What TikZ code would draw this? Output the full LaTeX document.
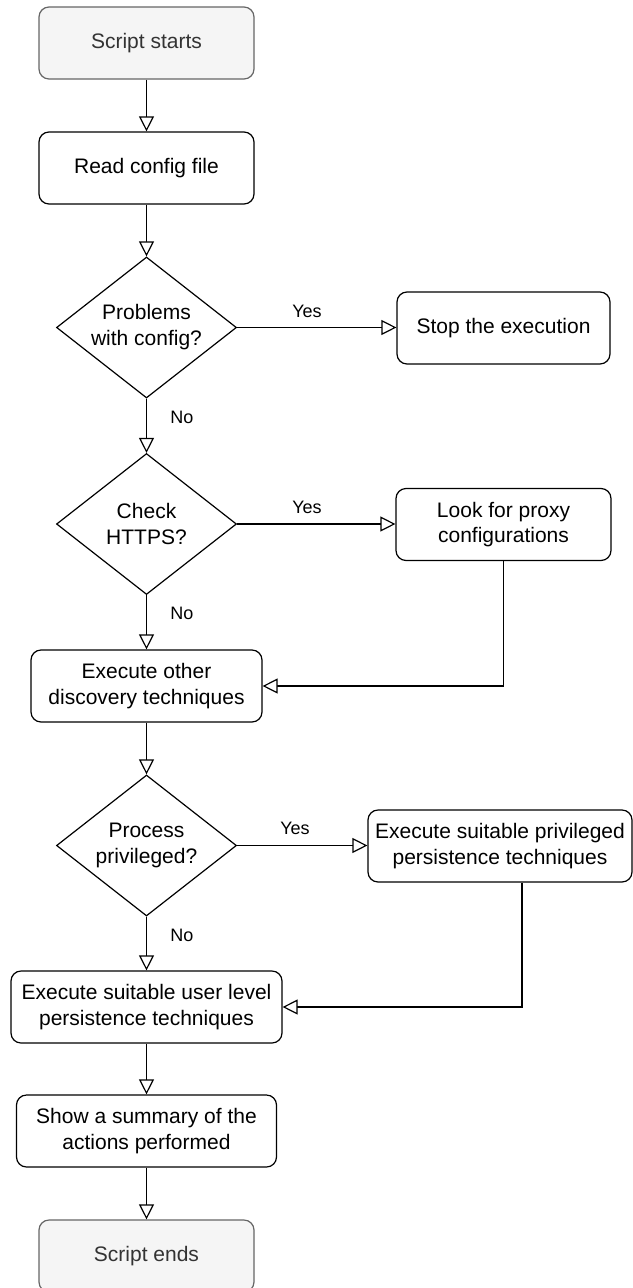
\documentclass[tikz,border=0pt]{standalone}
\usepackage{fontspec}
\setmainfont{Liberation Sans}
\usetikzlibrary{arrows.meta,shapes.geometric}
\definecolor{termfill}{HTML}{F5F5F5}
\definecolor{termdraw}{HTML}{666666}
\definecolor{termtext}{HTML}{333333}
\begin{document}
\begin{tikzpicture}[x=1pt,y=-1pt,
  box/.style={draw=black, line width=1.2pt, rounded corners=10pt, fill=white,
    minimum width=#1, minimum height=72pt, inner sep=0pt, align=center,
    font=\fontsize{21}{25.5}\selectfont, text=black},
  box/.default=215pt,
  term/.style={box=215pt, fill=termfill, draw=termdraw, text=termtext},
  dia/.style={diamond, draw=black, line width=1.2pt, fill=white,
    minimum width=180pt, minimum height=141pt, inner sep=0pt},
  diatext/.style={align=center, inner sep=0pt, font=\fontsize{21}{26}\selectfont, text=black},
  lbl/.style={inner sep=0pt, font=\fontsize{18}{20}\selectfont, text=black},
  arr/.style={line width=1.2pt, draw=black, -{Triangle[fill=white, length=15pt, width=15pt]}}
]
\useasboundingbox (0,0) rectangle (632,1288);

\node[term] (start) at (146.5,43) {Script starts};
\node[box] (read) at (146.5,168) {Read config file};
\node[dia] (d1) at (146.5,327.5) {};
\node[diatext] (d1t) at (146.5,327.5) {Problems\\with config?};
\node[box=213pt] (stop) at (503.5,328) {Stop the execution};

\node[dia] (d2) at (146.5,524) {};
\node[diatext] (d2t) at (146.5,524) {Check\\HTTPS?};
\node[box=215pt] (proxy) at (503.5,524.5) {Look for proxy\\configurations};

\node[box=231pt] (disc) at (146.5,686) {Execute other\\discovery techniques};

\node[dia] (d3) at (146.5,845.5) {};
\node[diatext] (d3t) at (146.5,845.5) {Process\\privileged?};
\node[box=264pt] (priv) at (500,846) {Execute suitable privileged\\persistence techniques};

\node[box=271pt] (user) at (146.5,1007) {Execute suitable user level\\persistence techniques};
\node[box=260pt] (summ) at (146.5,1131) {Show a summary of the\\actions performed};
\node[term] (end) at (146.5,1256) {Script ends};

\node[lbl] (y1) at (307,311) {Yes};
\node[lbl] (y2) at (307,507) {Yes};
\node[lbl] (y3) at (295,828) {Yes};
\node[lbl] (n1) at (182,417) {No};
\node[lbl] (n2) at (182,613) {No};
\node[lbl] (n3) at (182,935) {No};

\draw[arr] (start) -- (read);
\draw[arr] (read) -- (d1);
\draw[arr] (d1.east) -- (d1.east -| stop.west);
\draw[arr] (d1) -- (d2);
\draw[arr] (d2.east) -- (d2.east -| proxy.west);
\draw[arr] (d2) -- (disc);
\draw[arr] (proxy.south) |- (disc.east);
\draw[arr] (disc) -- (d3);
\draw[arr] (d3.east) -- (d3.east -| priv.west);
\draw[arr] (d3) -- (user);
\draw[arr] ([xshift=22pt]priv.south) |- (user.east);
\draw[arr] (user) -- (summ);
\draw[arr] (summ) -- (end);
\end{tikzpicture}
\end{document}
